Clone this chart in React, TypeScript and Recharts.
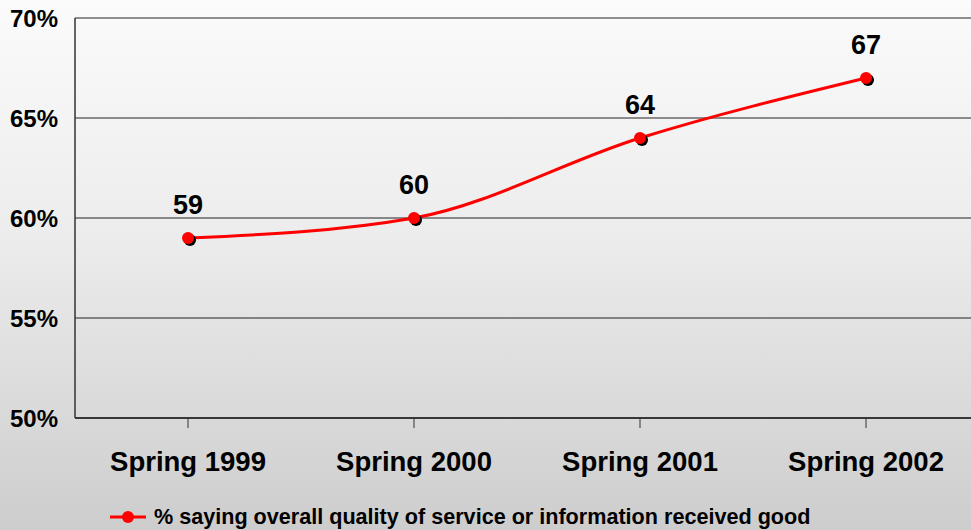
import React from 'react';
import {
  LineChart,
  Line,
  XAxis,
  YAxis,
  CartesianGrid,
  LabelList,
} from 'recharts';

const seasons = ['Spring 1999', 'Spring 2000', 'Spring 2001', 'Spring 2002'];
const goodQuality = [59, 60, 64, 67];
const yTicks = [50, 55, 60, 65, 70];
const seriesName = '% saying overall quality of service or information received good';

const chartData = seasons.map((season, i) => ({ season, value: goodQuality[i] }));

const FONT = '"Liberation Sans", Arial, Helvetica, sans-serif';

interface DotProps {
  cx?: number;
  cy?: number;
  index?: number;
}

// red marker with a small black drop shadow, like the old Excel chart
const ShadowDot = ({ cx, cy, index }: DotProps) => {
  if (cx == null || cy == null) return null;
  return (
    <g key={`dot-${index}`}>
      <circle cx={cx + 2} cy={cy + 2} r={6} fill="#000" />
      <circle cx={cx} cy={cy} r={6} fill="#ff0000" />
    </g>
  );
};

const App: React.FC = () => {
  return (
    <div
      style={{
        position: 'absolute',
        left: 0,
        top: 0,
        width: 971,
        height: 530,
        overflow: 'hidden',
        background: 'linear-gradient(to bottom, #fbfbfb 0%, #ececec 45%, #cdcdcd 100%)',
        fontFamily: FONT,
      }}
    >
      <LineChart
        width={990}
        height={530}
        data={chartData}
        margin={{ top: 18, right: 11, left: 0, bottom: 0 }}
      >
        <CartesianGrid vertical={false} stroke="#222" strokeWidth={1.2} />
        <XAxis
          dataKey="season"
          height={112}
          padding={{ left: 113, right: 113 }}
          axisLine={{ stroke: '#222', strokeWidth: 1.5 }}
          tickLine={{ stroke: '#333' }}
          tickSize={10}
          tickMargin={23}
          tick={{ fontSize: 27.5, fontWeight: 'bold', fill: '#000', fontFamily: FONT }}
        />
        <YAxis
          width={75}
          domain={[50, 70]}
          ticks={yTicks}
          tickFormatter={(v: number) => `${v}%`}
          axisLine={{ stroke: '#333', strokeWidth: 1.5 }}
          tickLine={false}
          tickMargin={11}
          tick={{ fontSize: 24, fontWeight: 'bold', fill: '#000', fontFamily: FONT }}
        />
        <Line
          type="monotone"
          dataKey="value"
          stroke="#ff0000"
          strokeWidth={3}
          dot={<ShadowDot />}
          activeDot={false}
          isAnimationActive={false}
        >
          <LabelList
            dataKey="value"
            position="top"
            offset={24}
            style={{ fontSize: 27, fontWeight: 'bold', fill: '#000', fontFamily: FONT }}
          />
        </Line>
      </LineChart>

      {/* Legend */}
      <div
        style={{
          position: 'absolute',
          left: 110,
          top: 504,
          display: 'flex',
          alignItems: 'center',
          gap: 8,
        }}
      >
        <svg width={36} height={14}>
          <line x1={0} y1={7} x2={36} y2={7} stroke="#ff0000" strokeWidth={3} />
          <circle cx={18} cy={7} r={6} fill="#ff0000" />
        </svg>
        <span style={{ fontSize: 21.6, fontWeight: 'bold', color: '#000', lineHeight: '26px' }}>
          {seriesName}
        </span>
      </div>
    </div>
  );
};

export default App;
